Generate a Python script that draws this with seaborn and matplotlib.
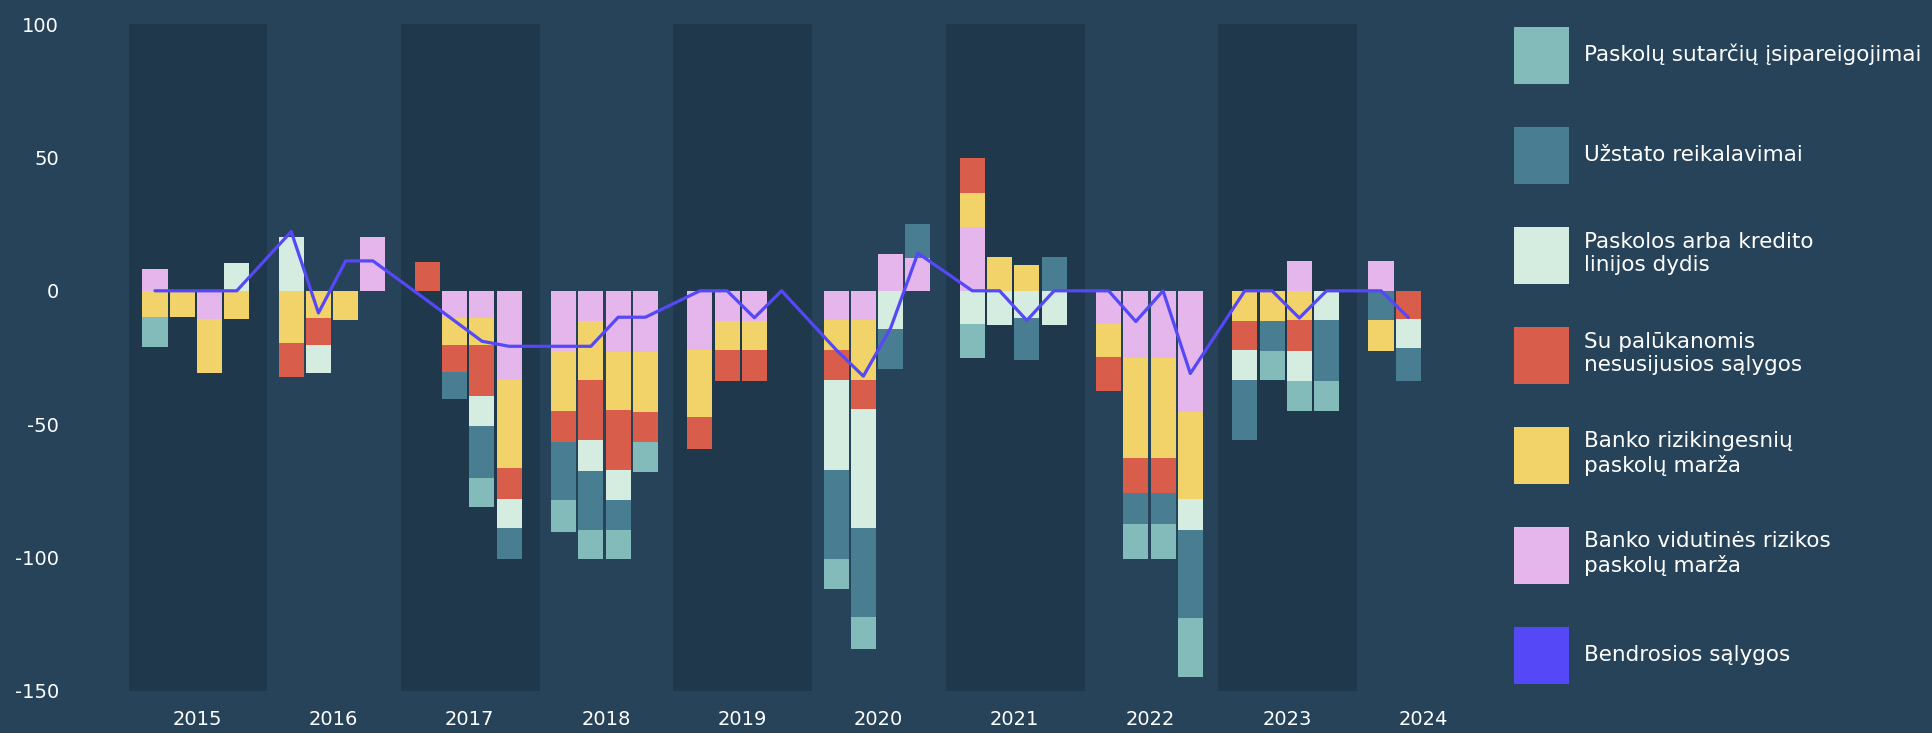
import numpy as np
import matplotlib
matplotlib.use("Agg")
import matplotlib.pyplot as plt
from matplotlib.patches import Patch
import seaborn as sns

# quarters 2015 Q1 .. 2024 Q2
years = list(range(2015, 2025))
quarters = [(y, q) for y in years for q in range(1, 5)][:38]

# survey series, one value per quarter (net %)
vidutines_marza = [8.3, 0, -10.5, 0,   0, 0, 0, 20,   0, -10.1, -10.3, -33.5,
                   -22.6, -11.4, -23, -23,   -22.3, -11.3, -11.3, 0,
                   -11.1, -11.1, 13.9, 12.4,   24, 0, 0, 0,
                   -12.4, -25.2, -25.2, -45.3,   0, 0, 11.2, 0,   11.2, 0]
rizikingesniu_marza = [-9.8, -9.8, -20.2, -10.5,   -19.5, -10.1, -10.9, 0,
                       0, -10.1, -10.2, -33.0,   -22.3, -21.9, -21.6, -22.5,
                       -24.9, -10.9, -10.9, 0,   -11.1, -22.3, 0, 0,
                       12.8, 12.7, 9.7, 0,   -12.5, -37.5, -37.5, -32.8,
                       -11.2, -11.2, -11.0, 0,   -11.6, 0]
nesusijusios = [0, 0, 0, 0,   -12.7, -10.1, 0, 0,   10.9, -10.1, -19.1, -11.6,
                -11.6, -22.5, -22.5, -11.2,   -12.0, -11.6, -11.6, 0,
                -11.2, -10.9, 0, 0,   12.8, 0, 0, 0,   -12.6, -13.2, -13.2, 0,
                -10.9, 0, -11.6, 0,   0, -10.5]
dydis = [0, 0, 0, 10.5,   20, -10.5, 0, 0,   0, 0, -10.9, -10.9,
         0, -11.6, -11.2, 0,   0, 0, 0, 0,   -33.7, -44.6, -14.3, 0,
         -12.5, -12.8, -10.1, -12.8,   0, 0, 0, -11.4,
         -11.2, 0, -11.2, -10.9,   0, -10.9]
uzstato = [0, 0, 0, 0,   0, 0, 0, 0,   0, -10.4, -19.5, -11.4,
           -21.8, -22.3, -11.4, 0,   0, 0, 0, 0,   -33.5, -33.5, -14.9, 12.8,
           0, 0, -15.8, 12.6,   0, -11.6, -11.6, -33.0,
           -22.8, -11.2, 0, -22.9,   -10.9, -12.4]
sutarciu = [-11.2, 0, 0, 0,   0, 0, 0, 0,   0, 0, -10.9, 0,
            -12.1, -10.9, -10.9, -11.2,   0, 0, 0, 0,   -11.2, -11.9, 0, 0,
            -12.8, 0, 0, 0,   0, -13.2, -13.2, -22.3,
            0, -11.2, -11.2, -11.2,   0, 0]
bendrosios = [0, 0, 0, 0,   22.2, -8.3, 11.2, 11.2,   -3.7, -11.3, -18.9, -20.8,
              -20.8, -20.8, -9.9, -9.9,   0, 0, -10.1, 0,   -22.1, -32.0, -14.0, 14.1,
              0, 0, -11.1, 0,   0, -11.5, 0, -31.0,   0, 0, -10.2, 0,   0, -10.0]

labels = ["Paskolų sutarčių įsipareigojimai", "Užstato reikalavimai",
          "Paskolos arba kredito\nlinijos dydis", "Su palūkanomis\nnesusijusios sąlygos",
          "Banko rizikingesnių\npaskolų marža", "Banko vidutinės rizikos\npaskolų marža",
          "Bendrosios sąlygos"]

BG = "#274359"
BAND = "#1f384c"
TEXT = "#ffffff"
colors = ["#82bbba", "#487d92", "#d5ede0", "#d95d4b", "#f2d36a", "#e4b6ec", "#5548f7"]

series = [sutarciu, uzstato, dydis, nesusijusios, rizikingesniu_marza, vidutines_marza]
# stacking order outward from zero (last legend entry sits next to the axis)
stack_order = [5, 4, 3, 2, 1, 0]
order_exceptions = {(2024, 1): [5, 1, 4, 3, 2, 0]}

sns.set_theme(style="dark", rc={"axes.facecolor": BG, "figure.facecolor": BG})
plt.rcParams["font.family"] = ["DejaVu Sans"]

fig = plt.figure(figsize=(19.33, 7.33), dpi=100)
ax = fig.add_axes([100.5 / 1933, 42 / 733, 1389.5 / 1933, 667 / 733])
ax.set_facecolor(BG)

# x slot of each quarter: 5 slots per year, last one left empty
slot = np.array([(y - years[0]) * 5 + (q - 1) for y, q in quarters], dtype=float)

# alternating year bands
for i, y in enumerate(years[:-1]):
    if i % 2 == 0:
        ax.axvspan(i * 5 - 0.97, i * 5 + 4.12, color=BAND, lw=0, zorder=0)

for j, (y, q) in enumerate(quarters):
    pos, neg = 0.0, 0.0
    for s in order_exceptions.get((y, q), stack_order):
        v = series[s][j]
        if v == 0:
            continue
        if v > 0:
            bottom, pos = pos, pos + v
        else:
            bottom, neg = neg, neg + v
        ax.bar(slot[j], v, bottom=bottom, width=0.92, color=colors[s], lw=0, zorder=2)

sns.lineplot(x=slot, y=bendrosios, color=colors[6], linewidth=2.3, estimator=None,
             sort=False, ax=ax, zorder=3)

ax.set_xlim(-2, 49)
ax.set_ylim(-150, 100)
yt = [-150, -100, -50, 0, 50, 100]
ax.set_yticks(yt)
ax.set_yticklabels([str(v) for v in yt])
ax.set_xticks([i * 5 + 1.55 for i in range(len(years))])
ax.set_xticklabels([str(y) for y in years])
ax.tick_params(axis="y", length=0, pad=30, labelsize=14, labelcolor=TEXT)
ax.tick_params(axis="x", length=0, pad=14, labelsize=14, labelcolor=TEXT)
ax.grid(False)
for sp in ax.spines.values():
    sp.set_visible(False)
ax.set_xlabel("")
ax.set_ylabel("")

# legend boxes 55 x 57 px, 100 px apart
handles = [Patch(facecolor=c, edgecolor="none") for c in colors]
fs = 15.5
px = fs * 100 / 72
box_h = 57 / px
leg = fig.legend(handles, labels, loc="upper left", bbox_to_anchor=(1514 / 1933, 1 - 27 / 733),
                 bbox_transform=fig.transFigure, frameon=False, fontsize=fs,
                 handlelength=55 / px, handleheight=(box_h - 0.245) / 0.65,
                 labelspacing=43 / px, handletextpad=15 / px,
                 borderpad=0, borderaxespad=0)
for t in leg.get_texts():
    t.set_color(TEXT)

fig.savefig("out.png", dpi=100, facecolor=BG)
